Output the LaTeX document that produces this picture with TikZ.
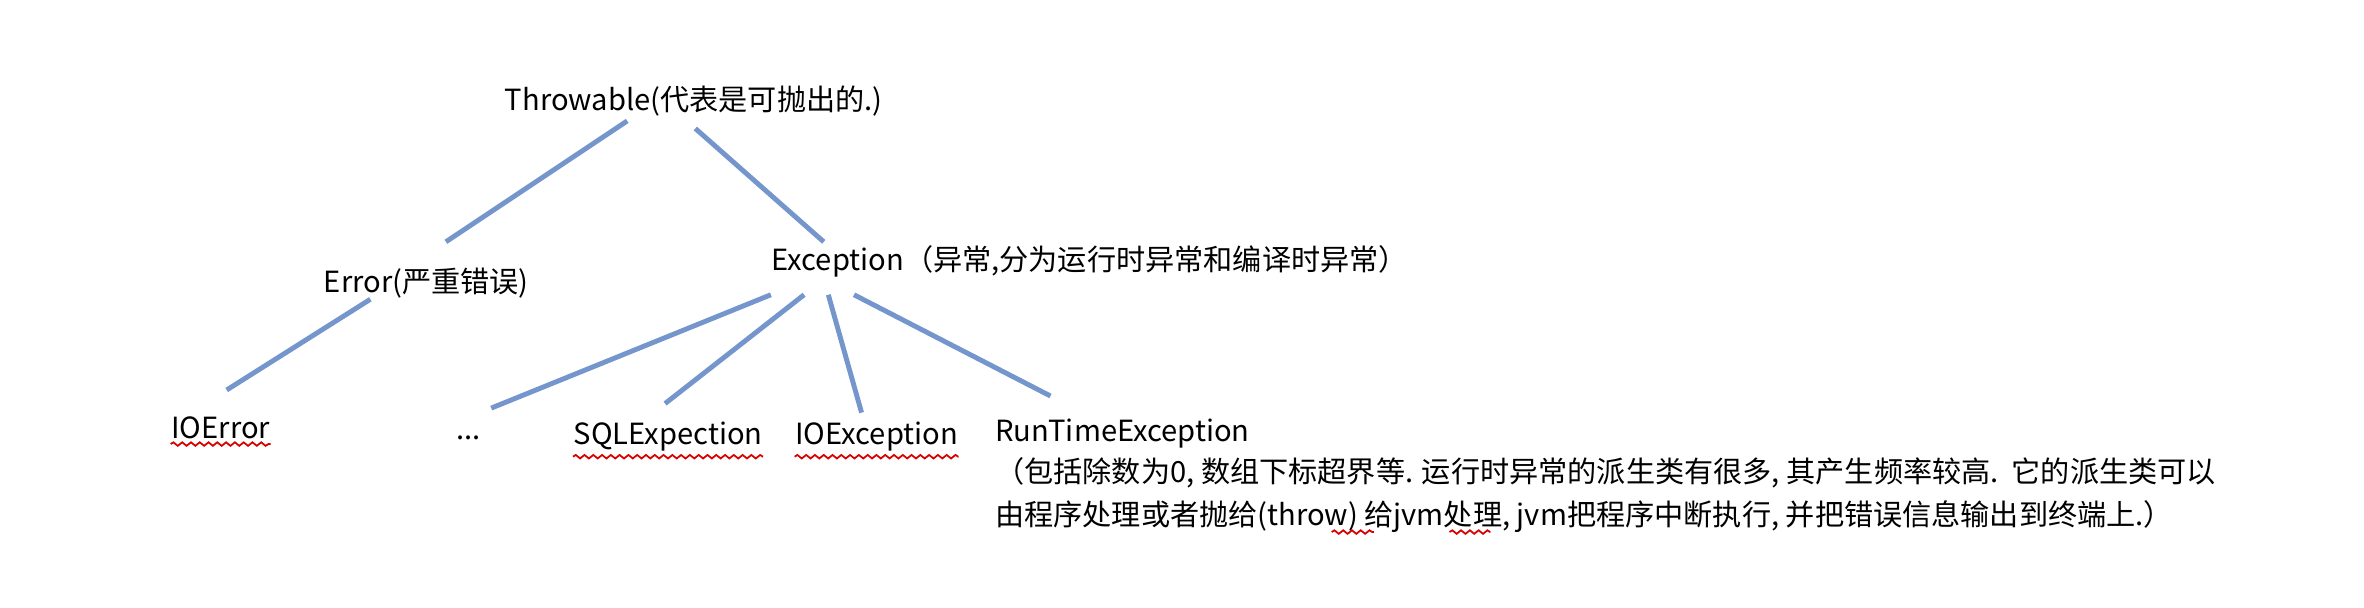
\documentclass[tikz,border=0pt]{standalone}
\usepackage{fontspec}
\setmainfont{Noto Sans CJK SC}
\usetikzlibrary{calc,decorations.pathmorphing}

\begin{document}
\begin{tikzpicture}[x=0.015115cm,y=-0.015115cm,
	txt/.style={inner sep=0,font=\fontsize{8.3}{10}\selectfont},
	link/.style={draw={rgb,255:red,116;green,150;blue,204},line width=1.4pt},
	spell/.style={draw=red!85!black,line width=0.5pt,decorate,decoration={snake,amplitude=0.5pt,segment length=2.5pt}}]
	\useasboundingbox (0,0) rectangle (1564,402);

	\begin{scope} % tree
		\node[txt] (thr) at (459,67) {Throwable(代表是可抛出的.)};
		\node[txt] (err) at (282,187) {Error(严重错误)};
		\node[txt,anchor=west] (exc) at (510,173) {Exception（异常,分为运行时异常和编译时异常）};
		\node[txt] (ioerr) at (146,283) {IOError};
		\node[txt] (dots) at (310,290) {...};
		\node[txt] (sql) at (442,289) {SQLExpection};
		\node[txt] (ioexc) at (580,289) {IOException};
		\node[txt,anchor=west] (rte) at (658,287) {RunTimeException};
	\end{scope}

	\begin{scope}[link] % connectors
		\draw ($(thr)+(-44,13)$) -- ($(err)+(13,-27)$);
		\draw ($(thr)+(1,18)$) -- ($(exc.west)+(35,-13)$);
		\draw ($(err)+(-37,11)$) -- ($(ioerr)+(4,-25)$);
		\draw ($(exc.west)+(0,22)$) -- ($(dots)+(15,-20)$);
		\draw ($(exc.west)+(22,22)$) -- ($(sql)+(-2,-22)$);
		\draw ($(exc.west)+(38,22)$) -- ($(ioexc)+(-10,-16)$);
		\draw ($(exc.west)+(55,22)$) -- ($(rte.west)+(37,-25)$);
	\end{scope}

	\node[txt,anchor=west] (note1) at (658,313) {（包括除数为0, 数组下标超界等. 运行时异常的派生类有很多, 其产生频率较高.\ \ 它的派生类可以};
	\node[txt,anchor=west] (note2) at (658,342) {由程序处理或者抛给(throw) 给jvm处理, jvm把程序中断执行, 并把错误信息输出到终端上.）};

	% spelling marks
	\draw[spell] ($(ioerr.south west)+(0,3)$) -- ($(ioerr.south east)+(0,3)$);
	\draw[spell] ($(sql.south west)+(0,3)$) -- ($(sql.south east)+(0,3)$);
	\draw[spell] ($(ioexc.south west)+(0,3)$) -- ($(ioexc.south east)+(0,3)$);
	\draw[spell] (881,352) -- (909,352);
	\draw[spell] (959,352) -- (986,352);
\end{tikzpicture}
\end{document}
